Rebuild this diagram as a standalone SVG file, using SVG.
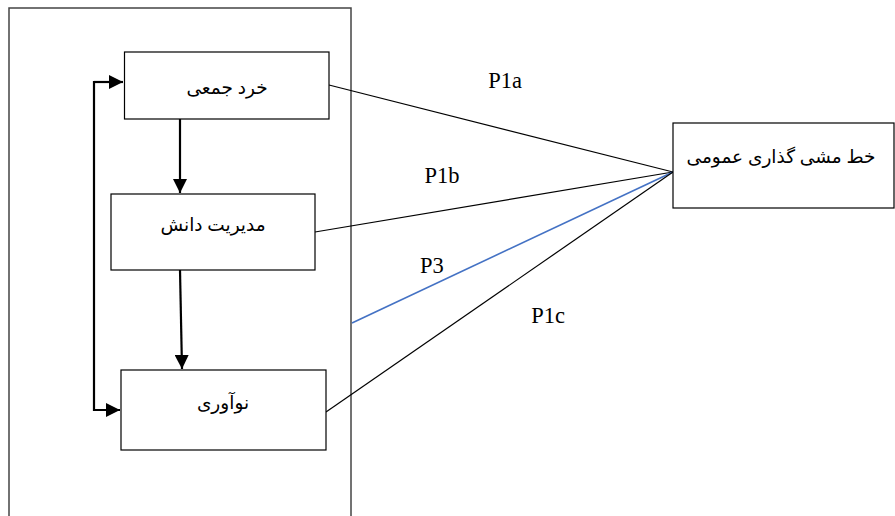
<svg xmlns="http://www.w3.org/2000/svg" width="895" height="516" viewBox="0 0 895 516">
<defs>
<style>
.box{fill:#fff;stroke:#000;stroke-width:1.2}
.lbl{font-family:"Noto Sans","DejaVu Sans",sans-serif;font-size:18.5px;fill:#000;text-anchor:middle}
.p{font-family:"Liberation Serif",serif;font-size:22.5px;fill:#000;text-anchor:middle}
.ln{stroke:#000;stroke-width:1.2;fill:none}
.arr{stroke:#000;stroke-width:2.2;fill:none}
</style>
<marker id="ah" viewBox="0 0 10 10" refX="10" refY="5" markerWidth="6.5" markerHeight="6.5" orient="auto" markerUnits="strokeWidth">
<path d="M0,0 L10,5 L0,10 z" fill="#000"/>
</marker>
</defs>
<rect x="9" y="8" width="342" height="520" fill="none" stroke="#444" stroke-width="1.5"/>
<g id="connectors">
<line class="ln" x1="329" y1="85" x2="673" y2="172"/>
<line class="ln" x1="315" y1="232" x2="673" y2="172"/>
<line x1="352" y1="323" x2="673" y2="172" stroke="#4472c4" stroke-width="1.6"/>
<line class="ln" x1="326" y1="412" x2="673" y2="172"/>
<line class="arr" x1="180" y1="119" x2="180" y2="193" marker-end="url(#ah)"/>
<line class="arr" x1="180" y1="270" x2="182" y2="369" marker-end="url(#ah)"/>
<polyline class="arr" points="123,82 94,82 94,410 120,410" marker-end="url(#ah)"/>
<line class="arr" x1="94" y1="82" x2="123" y2="82" marker-end="url(#ah)"/>
</g>
<g id="n1"><rect class="box" x="124.5" y="52" width="204.5" height="67"/><text class="lbl" x="227" y="94" direction="rtl">خرد جمعی</text></g>
<g id="n2"><rect class="box" x="111" y="194" width="204" height="76"/><text class="lbl" x="213" y="231" direction="rtl">مدیریت دانش</text></g>
<g id="n3"><rect class="box" x="121" y="370" width="205" height="80"/><text class="lbl" x="223" y="409" direction="rtl">نوآوری</text></g>
<g id="n4"><rect class="box" x="673" y="123" width="221" height="85"/><text class="lbl" x="781" y="163" direction="rtl">خط مشی گذاری عمومی</text></g>
<text class="p" x="505" y="88">P1a</text>
<text class="p" x="442" y="183">P1b</text>
<text class="p" x="432" y="273">P3</text>
<text class="p" x="548" y="323">P1c</text>
</svg>
